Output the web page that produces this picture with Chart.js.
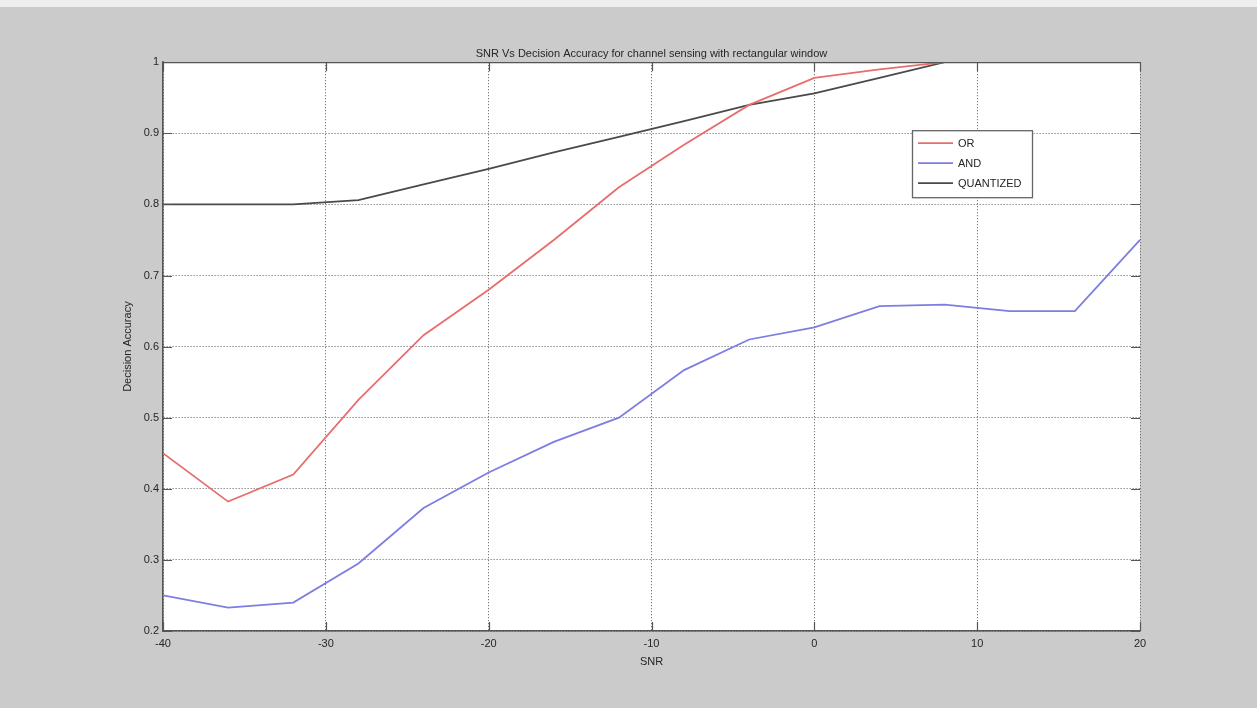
<!DOCTYPE html>
<html>
<head>
<meta charset="utf-8">
<title>SNR Vs Decision Accuracy</title>
<script src="https://cdn.jsdelivr.net/npm/chart.js@4.4.1/dist/chart.umd.min.js"></script>
<style>
  html, body { margin: 0; padding: 0; }
  body {
    width: 1257px;
    height: 708px;
    overflow: hidden;
    background: linear-gradient(#eeeeee 0, #eeeeee 7px, #cbcbcb 7px);
  }
  #wrap { position: absolute; left: 0; top: 0; width: 1257px; height: 708px; }
</style>
</head>
<body>
<div id="wrap"><canvas id="accuracyChart" width="1257" height="708"></canvas></div>
<script>
// SNR sweep (dB) and decision accuracy per fusion rule
const snr = [-40, -36, -32, -28, -24, -20, -16, -12, -8, -4, 0, 4, 8, 12, 16, 20];
const orAccuracy = [0.45, 0.382, 0.42, 0.525, 0.616, 0.68, 0.75, 0.824, 0.884, 0.94, 0.978, 0.99, 1.0, 1.0, 1.0, 1.0];
const andAccuracy = [0.25, 0.233, 0.24, 0.295, 0.373, 0.423, 0.466, 0.50, 0.567, 0.61, 0.627, 0.657, 0.659, 0.65, 0.65, 0.75];
const quantizedAccuracy = [0.8, 0.8, 0.8, 0.806, 0.828, 0.85, 0.873, 0.895, 0.917, 0.94, 0.956, 0.978, 1.0, 1.0, 1.0, 1.0];

const seriesNames = ['OR', 'AND', 'QUANTIZED'];
const seriesColors = ['#e86e6e', '#7e7ee2', '#4a4a4a'];

const xTicks = [-40, -30, -20, -10, 0, 10, 20];
const yTicks = [0.2, 0.3, 0.4, 0.5, 0.6, 0.7, 0.8, 0.9, 1];

const FONT = { family: '"Liberation Sans", Arial, sans-serif', size: 11 };
const AXIS_COLOR = '#555555';
const GRID_COLOR = '#5c5c5c';
const TEXT_COLOR = '#262626';

function toPoints(values) {
    return snr.map((s, i) => ({ x: s, y: values[i] }));
}

// white axes background, box top edge, inward tick marks and the boxed legend
const axesFrame = {
    id: 'axesFrame',
    beforeDraw(chart) {
        const { ctx, chartArea: a } = chart;
        ctx.save();
        ctx.fillStyle = '#ffffff';
        ctx.fillRect(a.left, a.top, a.width, a.height);
        ctx.restore();
    },
    afterDraw(chart) {
        const { ctx, chartArea: a, scales: { x, y } } = chart;
        const tickLen = 9;
        ctx.save();
        ctx.strokeStyle = AXIS_COLOR;
        ctx.lineWidth = 1.2;
        ctx.beginPath();
        ctx.moveTo(a.left, a.top + 0.5);
        ctx.lineTo(a.right, a.top + 0.5);
        x.ticks.forEach(t => {
            const px = Math.round(x.getPixelForValue(t.value)) + 0.5;
            ctx.moveTo(px, a.bottom);
            ctx.lineTo(px, a.bottom - tickLen);
            ctx.moveTo(px, a.top);
            ctx.lineTo(px, a.top + tickLen);
        });
        y.ticks.forEach(t => {
            const py = Math.round(y.getPixelForValue(t.value)) + 0.5;
            ctx.moveTo(a.left, py);
            ctx.lineTo(a.left + tickLen, py);
            ctx.moveTo(a.right, py);
            ctx.lineTo(a.right - tickLen, py);
        });
        ctx.stroke();

        // legend box, placed in the upper right of the axes
        const box = { left: a.right - 228, top: a.top + 68, width: 120, height: 67 };
        ctx.fillStyle = '#ffffff';
        ctx.fillRect(box.left, box.top, box.width, box.height);
        ctx.strokeStyle = '#666666';
        ctx.lineWidth = 1.3;
        ctx.strokeRect(box.left + 0.5, box.top + 0.5, box.width, box.height);

        ctx.font = `${FONT.size}px ${FONT.family}`;
        ctx.textBaseline = 'middle';
        ctx.textAlign = 'left';
        chart.data.datasets.forEach((ds, i) => {
            const rowY = box.top + 13 + i * 20;
            ctx.strokeStyle = ds.borderColor;
            ctx.lineWidth = ds.borderWidth;
            ctx.beginPath();
            ctx.moveTo(box.left + 6, rowY);
            ctx.lineTo(box.left + 41, rowY);
            ctx.stroke();
            ctx.fillStyle = TEXT_COLOR;
            ctx.fillText(ds.label, box.left + 46, rowY + 1);
        });
        ctx.restore();
    }
};

const ctx = document.getElementById('accuracyChart').getContext('2d');

new Chart(ctx, {
    type: 'line',
    data: {
        datasets: [orAccuracy, andAccuracy, quantizedAccuracy].map((values, i) => ({
            label: seriesNames[i],
            data: toPoints(values),
            borderColor: seriesColors[i],
            backgroundColor: seriesColors[i],
            borderWidth: 1.8,
            pointRadius: 0,
            tension: 0,
            fill: false
        }))
    },
    options: {
        responsive: false,
        animation: false,
        devicePixelRatio: 1,
        layout: { padding: { left: 0, right: 117, top: 0, bottom: 0 } },
        plugins: {
            legend: { display: false },
            tooltip: { enabled: false },
            title: {
                display: true,
                fullSize: false,
                text: 'SNR Vs Decision Accuracy for channel sensing with rectangular window',
                color: TEXT_COLOR,
                font: { ...FONT, weight: 'normal' },
                padding: { top: 47, bottom: 2 }
            }
        },
        scales: {
            x: {
                type: 'linear',
                min: -40,
                max: 20,
                afterBuildTicks: s => { s.ticks = xTicks.map(v => ({ value: v })); },
                afterFit: s => { s.height = 77; },
                grid: { color: GRID_COLOR, lineWidth: 1, drawTicks: false },
                border: { display: true, color: AXIS_COLOR, width: 1.6, dash: [1, 2] },
                ticks: { color: TEXT_COLOR, font: FONT, padding: 6, maxRotation: 0, autoSkip: false },
                title: {
                    display: true,
                    text: 'SNR',
                    color: TEXT_COLOR,
                    font: FONT,
                    padding: { top: 0, bottom: 39 }
                }
            },
            y: {
                min: 0.2,
                max: 1,
                afterBuildTicks: s => { s.ticks = yTicks.map(v => ({ value: v })); },
                afterFit: s => { s.width = 163; },
                grid: { color: GRID_COLOR, lineWidth: 1, drawTicks: false },
                border: { display: true, color: AXIS_COLOR, width: 1.6, dash: [1, 2] },
                ticks: {
                    color: TEXT_COLOR,
                    font: FONT,
                    padding: 4,
                    autoSkip: false,
                    callback: v => String(+Number(v).toFixed(1))
                },
                title: {
                    display: true,
                    text: 'Decision Accuracy',
                    color: TEXT_COLOR,
                    font: FONT,
                    padding: { top: 121, bottom: 0 }
                }
            }
        }
    },
    plugins: [axesFrame]
});
</script>
</body>
</html>
